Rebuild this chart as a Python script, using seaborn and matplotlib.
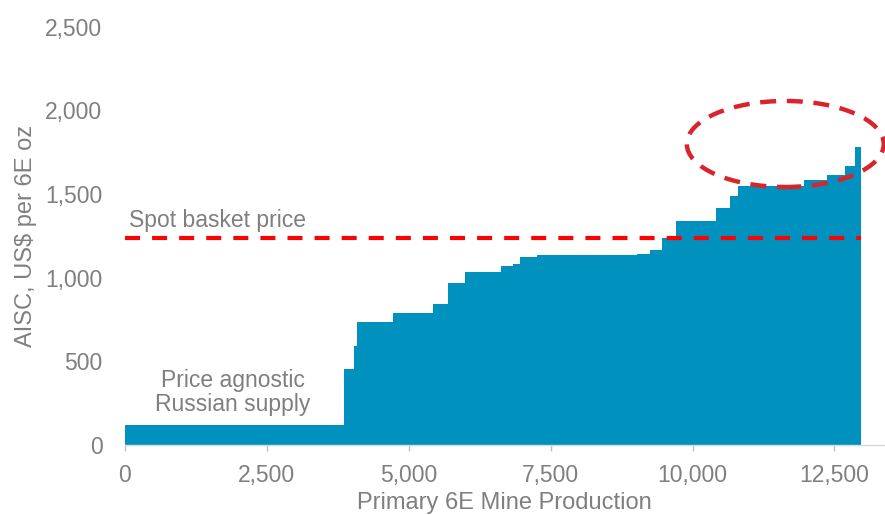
import numpy as np
import pandas as pd
import seaborn as sns
import matplotlib.pyplot as plt
from matplotlib.patches import Ellipse

# Cost curve: production per mine (koz 6E) sorted by AISC (US$/6E oz)
production = [3860, 177, 53, 628, 705, 264, 299, 634, 222, 117, 295, 1760,
              234, 217, 253, 692, 247, 141, 1167, 412, 304, 189, 90]
aisc = [120, 452, 594, 733, 787, 843, 970, 1032, 1072, 1080, 1126, 1134,
        1142, 1163, 1239, 1339, 1415, 1490, 1547, 1584, 1614, 1668, 1783]
spot_price = 1237
x_ticks = [0, 2500, 5000, 7500, 10000, 12500]
y_ticks = [0, 500, 1000, 1500, 2000, 2500]

edges = np.concatenate([[0], np.cumsum(production)])
df = pd.DataFrame({"mid": edges[:-1] + np.array(production) / 2, "aisc": aisc})

sns.set_style("white")
plt.rcParams["font.family"] = ["Liberation Sans", "DejaVu Sans"]
grey = "#7F7F7F"
blue = "#0091BE"

fig = plt.figure(figsize=(8.85, 5.15), dpi=100)
ax = fig.add_axes([0.1409, 0.1359, 0.8591, 0.8123])

sns.histplot(data=df, x="mid", weights="aisc", bins=edges.tolist(), element="step",
             fill=True, color=blue, alpha=1, linewidth=0, ax=ax)

# spot basket price line
ax.hlines(spot_price, 0, edges[-1], colors="#FF0000", linewidth=3,
          linestyles=(0, (3.6, 2.9)))
ax.text(1634, spot_price + 105, "Spot basket price", ha="center", va="center",
        color=grey, fontsize=16.5)
ax.text(1903, 314, "Price agnostic\nRussian supply", ha="center", va="center",
        color=grey, fontsize=16.5, linespacing=1.05)

# highlight the top of the curve
ell = Ellipse((11634, 1799), 3468, 514, fill=False, edgecolor="#D9242B",
              linewidth=3.2, linestyle=(0, (3.6, 2.4)), clip_on=False)
ax.add_patch(ell)

ax.set_xlim(0, 13390)
ax.set_ylim(0, 2500)
ax.set_xticks(x_ticks)
ax.set_yticks(y_ticks)
ax.set_xticklabels([f"{v:,}" for v in x_ticks])
ax.set_yticklabels([f"{v:,}" for v in y_ticks])
ax.tick_params(axis="x", colors="#BFBFBF", length=4, width=1, pad=9.5,
               labelsize=16.5, labelcolor=grey, bottom=True)
ax.tick_params(axis="y", length=0, pad=16, labelsize=16.5, labelcolor=grey)

ax.set_xlabel("Primary 6E Mine Production", color=grey, fontsize=17, labelpad=4)
ax.set_ylabel("AISC, US$ per 6E oz", color=grey, fontsize=17, labelpad=6)

for side in ["left", "right", "top"]:
    ax.spines[side].set_visible(False)
ax.spines["bottom"].set_color("#D9D9D9")
ax.spines["bottom"].set_linewidth(1)

plt.savefig("out.png", dpi=100)
